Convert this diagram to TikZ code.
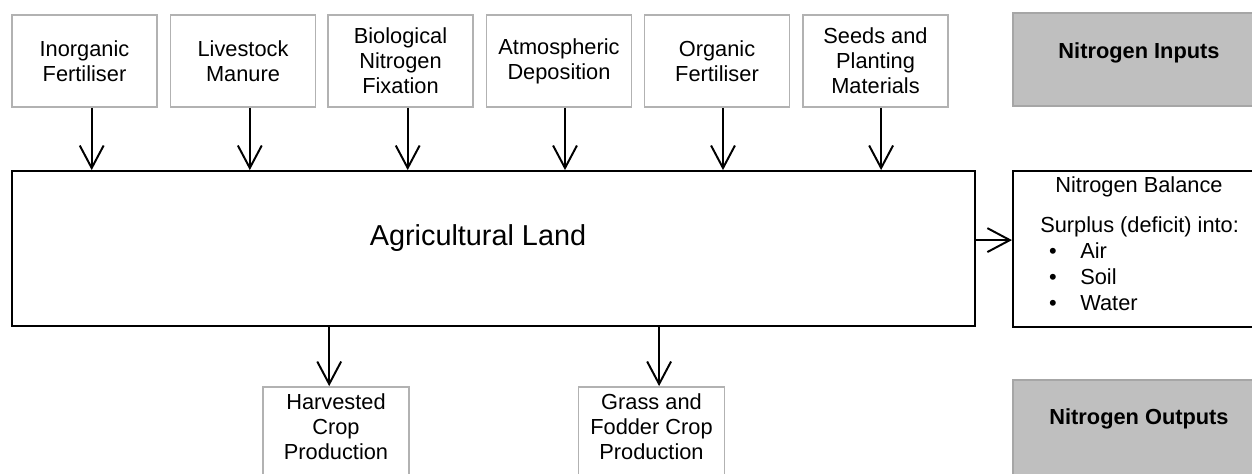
\documentclass[tikz,border=0pt]{standalone}
\usepackage{fontspec}
\setmainfont{Liberation Sans}
\usetikzlibrary{arrows.meta}

\newcommand{\boxfont}{\fontsize{15.5}{17.8}\selectfont}

\begin{document}
\begin{tikzpicture}[x=0.025cm,y=-0.025cm,
    inbox/.style={draw=black!30,line width=1.1pt,minimum width=3.62cm,minimum height=2.3cm,align=center,inner sep=1pt,font=\boxfont},
    outbox/.style={draw=black!30,line width=1.1pt,minimum width=3.65cm,minimum height=2.83cm},
    greybox/.style={draw=black!35,fill=black!25,line width=1.1pt,minimum width=6.3cm},
    bigbox/.style={draw=black,line width=1.4pt},
    boxtext/.style={align=center,inner sep=0pt,font=\boxfont},
    flow/.style={line width=1.4pt,-{Straight Barb[length=16pt,width=17pt]}}]
    \useasboundingbox (0,0) rectangle (1252,474);

    % input sources
    \node[inbox] (inorg) at (84.5,61) {Inorganic\\Fertiliser};
    \node[inbox] (manure) at (243,61) {Livestock\\Manure};
    \node[inbox] (fixation) at (400.5,61) {Biological\\Nitrogen\\Fixation};
    \node[inbox] (deposit) at (559,61) {Atmospheric\\Deposition};
    \node[inbox] (orgfert) at (717,61) {Organic\\Fertiliser};
    \node[inbox] (seeds) at (875.5,61) {Seeds and\\Planting\\Materials};

    % the land
    \node[bigbox,minimum width=24.07cm,minimum height=3.87cm] (land) at (493.5,248.5) {};
    \node[font=\fontsize{20.5}{24}\selectfont,anchor=base,inner sep=0pt] (landtext) at (478,245) {Agricultural Land};

    % outputs
    \node[outbox] (harv) at (336,443.5) {};
    \node[outbox] (grass) at (651.5,443.5) {};
    \node[boxtext,anchor=north] (harvtext) at ([yshift=-0.18cm]harv.north) {Harvested\\Crop\\Production};
    \node[boxtext,anchor=north] (grasstext) at ([yshift=-0.18cm]grass.north) {Grass and\\Fodder Crop\\Production};

    % balance
    \node[bigbox,minimum width=6.3cm,minimum height=3.9cm] (bal) at (1139,249) {};
    \node[font=\boxfont,anchor=base,inner sep=0pt] (baltitle) at (1139,192) {Nitrogen Balance};
    \node[font=\fontsize{15.5}{18.5}\selectfont,align=left,anchor=north west,inner sep=0pt] (balbody) at (1040,216)
        {Surplus (deficit) into:\\
         \hspace*{0.22cm}\makebox[0.78cm][l]{\textbullet}Air\\
         \hspace*{0.22cm}\makebox[0.78cm][l]{\textbullet}Soil\\
         \hspace*{0.22cm}\makebox[0.78cm][l]{\textbullet}Water};

    % key boxes
    \node[greybox,minimum height=2.33cm] (inkey) at (1139,59.5) {};
    \node[font=\boxfont\bfseries,anchor=base,inner sep=0pt] (inkeytext) at (1139,58) {Nitrogen Inputs};
    \node[greybox,minimum height=2.75cm] (outkey) at (1139,435) {};
    \node[font=\boxfont\bfseries,anchor=base,inner sep=0pt] (outkeytext) at (1139,424) {Nitrogen Outputs};

    % flows
    \draw[flow] ([xshift=0.18cm]inorg.south) -- ([xshift=0.18cm]inorg.south |- land.north);
    \draw[flow] ([xshift=0.17cm]manure.south) -- ([xshift=0.17cm]manure.south |- land.north);
    \draw[flow] ([xshift=0.18cm]fixation.south) -- ([xshift=0.18cm]fixation.south |- land.north);
    \draw[flow] ([xshift=0.15cm]deposit.south) -- ([xshift=0.15cm]deposit.south |- land.north);
    \draw[flow] ([xshift=0.15cm]orgfert.south) -- ([xshift=0.15cm]orgfert.south |- land.north);
    \draw[flow] ([xshift=0.14cm]seeds.south) -- ([xshift=0.14cm]seeds.south |- land.north);
    \draw[flow] ([xshift=-0.17cm]harv.north |- land.south) -- ([xshift=-0.17cm]harv.north);
    \draw[flow] ([xshift=0.19cm]grass.north |- land.south) -- ([xshift=0.19cm]grass.north);
    \draw[flow] ([yshift=0.21cm]land.east) -- ([yshift=0.21cm]land.east -| bal.west);
\end{tikzpicture}
\end{document}
